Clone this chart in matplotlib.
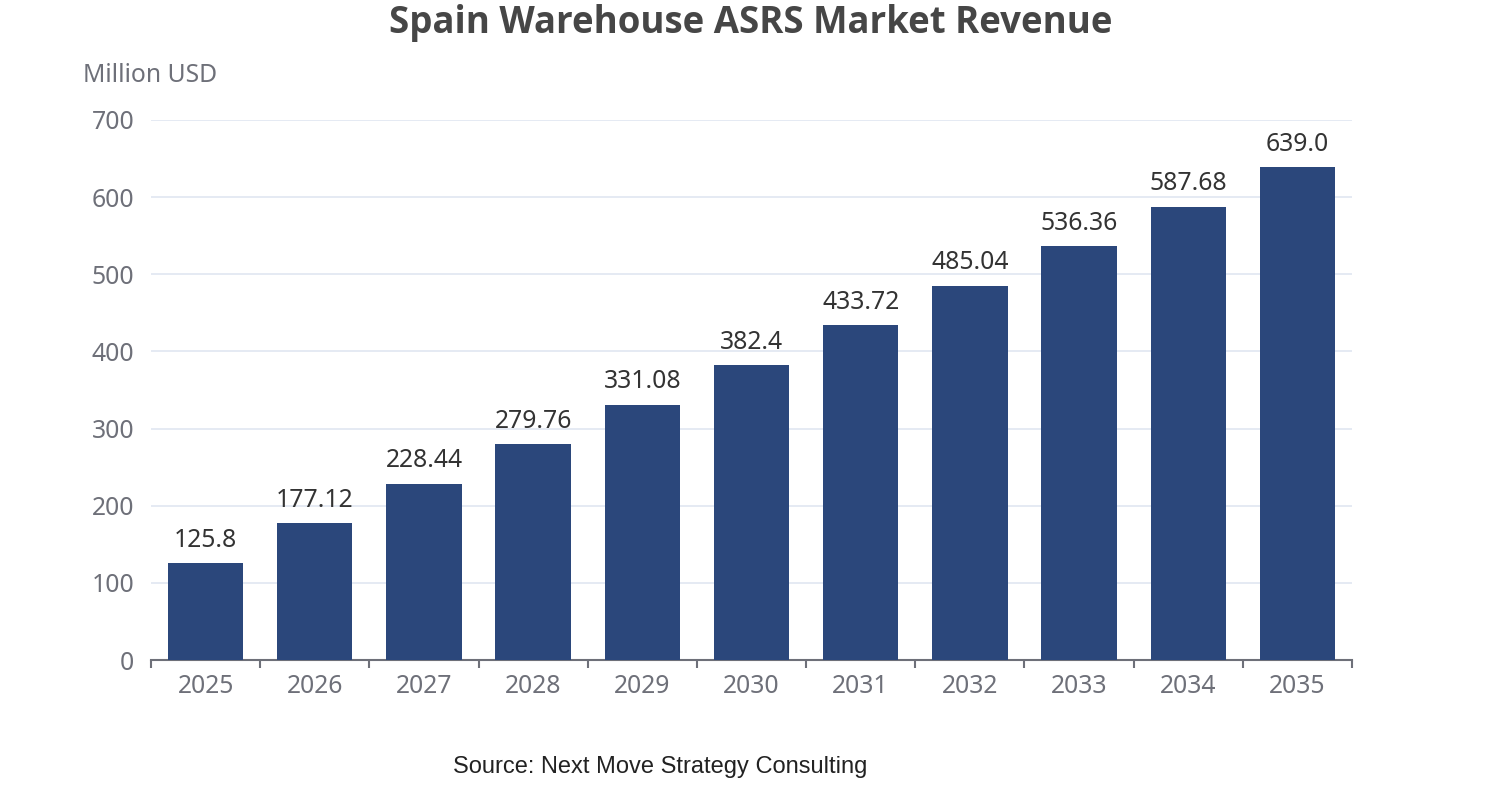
import matplotlib
matplotlib.use("Agg")
import matplotlib.pyplot as plt
from matplotlib.ticker import FixedLocator

years = ["2025", "2026", "2027", "2028", "2029", "2030", "2031", "2032", "2033", "2034", "2035"]
revenue = [125.8, 177.12, 228.44, 279.76, 331.08, 382.4, 433.72, 485.04, 536.36, 587.68, 639.0]
labels = ["125.8", "177.12", "228.44", "279.76", "331.08", "382.4", "433.72", "485.04", "536.36", "587.68", "639.0"]
yticks = [0, 100, 200, 300, 400, 500, 600, 700]

plt.rcParams['font.family'] = ['Noto Sans', 'DejaVu Sans']

W, H = 1502, 800
fig = plt.figure(figsize=(W / 100, H / 100), dpi=100)
ax = fig.add_axes([151 / W, 1 - 660 / H, (1352 - 151) / W, 540 / H])

x = list(range(len(years)))
ax.bar(x, revenue, width=0.69, color="#2B477B", zorder=3)
for xi, v, lab in zip(x, revenue, labels):
    ax.annotate(lab, (xi, v), xytext=(0, 7.5), textcoords="offset points",
                ha="center", va="bottom", fontsize=17.8, color="#333333")

ax.set_xlim(-0.5, len(years) - 0.5)
ax.set_ylim(0, 700)
ax.set_yticks(yticks)
ax.yaxis.grid(True, color="#E0E6F1", linewidth=1.2, zorder=0)
ax.set_axisbelow(True)
ax.tick_params(axis="y", length=0, pad=12, labelsize=17.8, labelcolor="#6E7079")

ax.set_xticks(x)
ax.set_xticklabels(years)
ax.tick_params(axis="x", which="major", length=0, pad=10, labelsize=17.8, labelcolor="#6E7079")
ax.xaxis.set_minor_locator(FixedLocator([i - 0.5 for i in range(len(years) + 1)]))
ax.tick_params(axis="x", which="minor", length=6, width=1.5, color="#6E7079", direction="out")

for s in ["top", "right", "left"]:
    ax.spines[s].set_visible(False)
ax.spines["bottom"].set_color("#6E7079")
ax.spines["bottom"].set_linewidth(1.5)

fig.text(83 / W, 1 - 75 / H, "Million USD", ha="left", va="center", fontsize=17.8, color="#6E7079")
fig.text(751 / W, 1 - 23 / H, "Spain Warehouse ASRS Market Revenue", ha="center", va="center",
         fontsize=26.4, fontweight="bold", color="#464646", family=["Open Sans", "DejaVu Sans"])
fig.text(660 / W, 1 - 767 / H, "Source: Next Move Strategy Consulting", ha="center", va="center",
         fontsize=17, color="#222222", family=["Liberation Sans", "DejaVu Sans"])

fig.savefig("out.png", dpi=100)
